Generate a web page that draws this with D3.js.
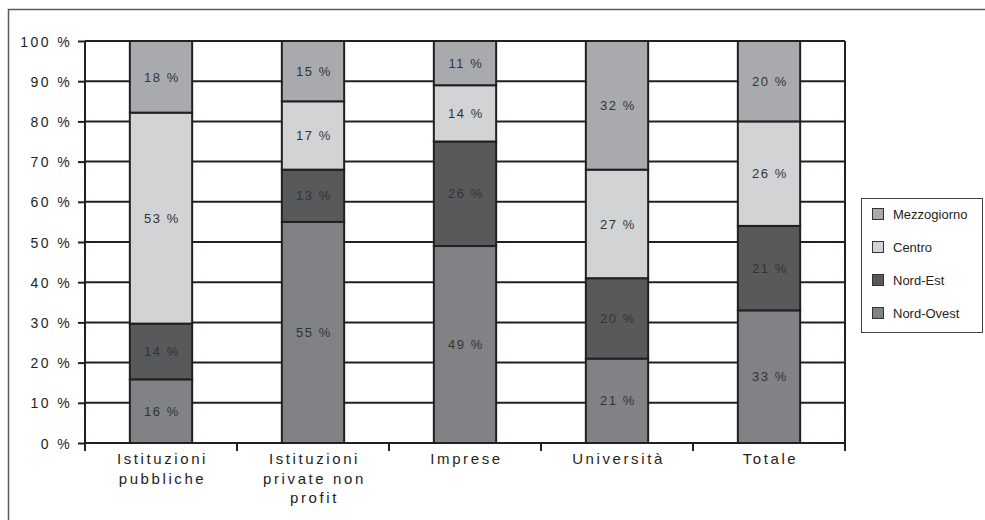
<!DOCTYPE html>
<html>
<head>
<meta charset="utf-8">
<script src="https://cdn.jsdelivr.net/npm/d3@7"></script>
<style>
  html, body { margin: 0; padding: 0; background: #fff; }
  svg { display: block; }
</style>
</head>
<body>
<svg id="chart" width="985" height="520"></svg>
<script>
// Categories (each label split into its display lines)
const categories = ["Istituzioni pubbliche", "Istituzioni private non profit", "Imprese", "Università", "Totale"];
const categoryLines = [["Istituzioni", "pubbliche"], ["Istituzioni", "private non", "profit"], ["Imprese"], ["Università"], ["Totale"]];

// Series, bottom to top, in percent
const seriesNames = ["Nord-Ovest", "Nord-Est", "Centro", "Mezzogiorno"];
const nordOvest   = [16, 55, 49, 21, 33];
const nordEst     = [14, 13, 26, 20, 21];
const centro      = [53, 17, 14, 27, 26];
const mezzogiorno = [18, 15, 11, 32, 20];
const seriesColors = ["#818285", "#58595b", "#d2d3d5", "#a9aaad"];

// Y axis ticks
const yTicks = [0, 0.1, 0.2, 0.3, 0.4, 0.5, 0.6, 0.7, 0.8, 0.9, 1];
const yTickLabels = ["0 %", "10 %", "20 %", "30 %", "40 %", "50 %", "60 %", "70 %", "80 %", "90 %", "100 %"];

const seriesValues = [nordOvest, nordEst, centro, mezzogiorno];
const rows = categories.map((c, i) => {
  const r = { cat: c };
  seriesNames.forEach((s, k) => { r[s] = seriesValues[k][i]; });
  return r;
});

const svg = d3.select("#chart");
const plotL = 85, plotR = 845, plotT = 41, plotB = 443;
const ink = "#231f20";

// Outer frame
svg.append("path")
  .attr("d", "M8.5,520 L8.5,9.5 L985,9.5")
  .attr("fill", "none").attr("stroke", "#5a5a5a").attr("stroke-width", 1.5);

const x = d3.scaleBand().domain(categories).range([plotL, plotR]).paddingInner(0.59).paddingOuter(0.295);
const y = d3.scaleLinear().domain([0, 1]).range([plotB, plotT]);
const color = d3.scaleOrdinal().domain(seriesNames).range(seriesColors);

// Horizontal gridlines
svg.append("g").selectAll("line").data(yTicks).join("line")
  .attr("x1", plotL).attr("x2", plotR)
  .attr("y1", d => y(d)).attr("y2", d => y(d))
  .attr("stroke", ink).attr("stroke-width", 2);

// Y axis with ticks
const yAxis = svg.append("g").attr("transform", `translate(${plotL},0)`)
  .call(d3.axisLeft(y).tickValues(yTicks).tickSize(7).tickFormat((d, i) => yTickLabels[i]));
yAxis.select(".domain").attr("d", `M0,${plotT}V${plotB + 8}`).attr("stroke", ink).attr("stroke-width", 2);
yAxis.selectAll(".tick line").attr("stroke", ink).attr("stroke-width", 2);
yAxis.selectAll(".tick text")
  .attr("x", -13).attr("dy", "0.36em")
  .attr("fill", "#231f20")
  .style("font-family", "'Liberation Sans', Arial, sans-serif")
  .style("font-size", "14px")
  .style("letter-spacing", "2.4px");

// Right border of the plot
svg.append("line")
  .attr("x1", plotR).attr("x2", plotR).attr("y1", plotT).attr("y2", plotB + 8)
  .attr("stroke", ink).attr("stroke-width", 2);

// X ticks at category boundaries
const step = x.step();
const bounds = d3.range(categories.length + 1).map(i => plotL + i * step);
svg.append("g").selectAll("line").data(bounds.slice(1, -1)).join("line")
  .attr("x1", d => d).attr("x2", d => d)
  .attr("y1", plotB).attr("y2", plotB + 8)
  .attr("stroke", ink).attr("stroke-width", 2);

// Stacked bars, normalised to 100 %
const stack = d3.stack().keys(seriesNames).offset(d3.stackOffsetExpand);
const layers = stack(rows);

const groups = svg.append("g").selectAll("g").data(layers).join("g")
  .attr("fill", d => color(d.key));

groups.selectAll("rect").data(d => d.map(p => ({ p, key: d.key }))).join("rect")
  .attr("x", d => x(d.p.data.cat))
  .attr("width", x.bandwidth())
  .attr("y", d => y(d.p[1]))
  .attr("height", d => y(d.p[0]) - y(d.p[1]))
  .attr("stroke", ink).attr("stroke-width", 2);

// Segment value labels
groups.selectAll("text").data(d => d.map(p => ({ p, key: d.key }))).join("text")
  .attr("x", d => x(d.p.data.cat) + x.bandwidth() / 2 + 1)
  .attr("y", d => (y(d.p[0]) + y(d.p[1])) / 2)
  .attr("dy", "0.36em")
  .attr("text-anchor", "middle")
  .attr("fill", "#333")
  .style("font-family", "'Liberation Sans', Arial, sans-serif")
  .style("font-size", "13px")
  .style("letter-spacing", "1.6px")
  .text(d => d.p.data[d.key] + " %");

// Category labels
const catG = svg.append("g").selectAll("text").data(categories).join("text")
  .attr("text-anchor", "middle")
  .attr("fill", "#231f20")
  .style("font-family", "'Liberation Sans', Arial, sans-serif")
  .style("font-size", "15px")
  .style("letter-spacing", "2.6px");
catG.each(function (c, i) {
  const t = d3.select(this);
  categoryLines[i].forEach((line, j) => {
    t.append("tspan")
      .attr("x", x(c) + x.bandwidth() / 2 + 1.5)
      .attr("y", 464 + j * 19.5)
      .text(line);
  });
});

// Legend
const legend = svg.append("g");
legend.append("rect")
  .attr("x", 861.5).attr("y", 198.5).attr("width", 121).attr("height", 134)
  .attr("fill", "#fff").attr("stroke", "#444").attr("stroke-width", 1);
const legendOrder = ["Mezzogiorno", "Centro", "Nord-Est", "Nord-Ovest"];
const li = legend.selectAll("g.item").data(legendOrder).join("g")
  .attr("class", "item")
  .attr("transform", (d, i) => `translate(872,${214 + i * 33})`);
li.append("rect")
  .attr("x", 0.5).attr("y", -5.5).attr("width", 11).attr("height", 11)
  .attr("fill", d => color(d)).attr("stroke", "#333").attr("stroke-width", 1);
li.append("text")
  .attr("x", 21).attr("dy", "0.36em")
  .attr("fill", "#231f20")
  .style("font-family", "'Liberation Sans', Arial, sans-serif")
  .style("font-size", "13px")
  .text(d => d);
</script>
</body>
</html>
